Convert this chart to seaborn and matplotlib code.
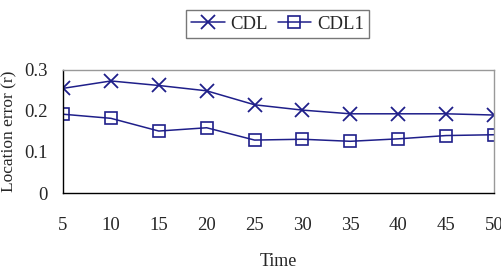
import matplotlib
matplotlib.use('Agg')
import matplotlib.pyplot as plt
import seaborn as sns
import pandas as pd

time = [5, 10, 15, 20, 25, 30, 35, 40, 45, 50]
cdl = [0.255, 0.273, 0.262, 0.249, 0.215, 0.202, 0.193, 0.193, 0.193, 0.190]
cdl1 = [0.192, 0.182, 0.151, 0.159, 0.129, 0.131, 0.126, 0.132, 0.140, 0.142]

NAVY = '#1f1f8a'

sns.set_style('white')
plt.rcParams['font.family'] = ['Liberation Serif', 'DejaVu Serif']

fig = plt.figure(figsize=(5.02, 2.73), dpi=100)
ax = fig.add_axes([0.1255, 0.293, 0.8585, 0.451])

df = pd.DataFrame({'Time': time, 'CDL': cdl, 'CDL1': cdl1})

sns.lineplot(data=df, x='Time', y='CDL', ax=ax, color=NAVY, lw=1.1,
             marker='x', markersize=10, markeredgewidth=1.3,
             markeredgecolor=NAVY, label='CDL')
sns.lineplot(data=df, x='Time', y='CDL1', ax=ax, color=NAVY, lw=1.1,
             marker='s', markersize=8, markeredgewidth=1.2,
             markerfacecolor='none', markeredgecolor=NAVY, label='CDL1')

ax.set_xlim(5, 50)
ax.set_ylim(0, 0.3)
ax.set_xticks(time)
ax.set_yticks([0, 0.1, 0.2, 0.3])
ax.set_yticklabels(['0', '0.1', '0.2', '0.3'])
ax.tick_params(axis='x', direction='in', length=5, pad=17, labelsize=13.5, color='black')
ax.tick_params(axis='y', direction='in', length=5, pad=11, labelsize=13.5, color='black')

for side in ['top', 'right']:
    ax.spines[side].set_color('#999999')
    ax.spines[side].set_linewidth(1.0)
for side in ['left', 'bottom']:
    ax.spines[side].set_color('black')
    ax.spines[side].set_linewidth(1.0)

ax.set_xlabel('Time', fontsize=13, labelpad=14)
ax.set_ylabel('Location error (r)', fontsize=12.5)
ax.yaxis.set_label_coords(-0.105, 0.5)

leg = ax.legend(loc='center', bbox_to_anchor=(0.553, 0.912), bbox_transform=fig.transFigure,
                ncol=2, frameon=True, fancybox=False, fontsize=13.5,
                handlelength=1.8, handletextpad=0.3, columnspacing=0.5,
                borderpad=0.3, borderaxespad=0)
leg.get_frame().set_edgecolor('#555555')
leg.get_frame().set_linewidth(1.0)

fig.savefig('out.png', dpi=100)
